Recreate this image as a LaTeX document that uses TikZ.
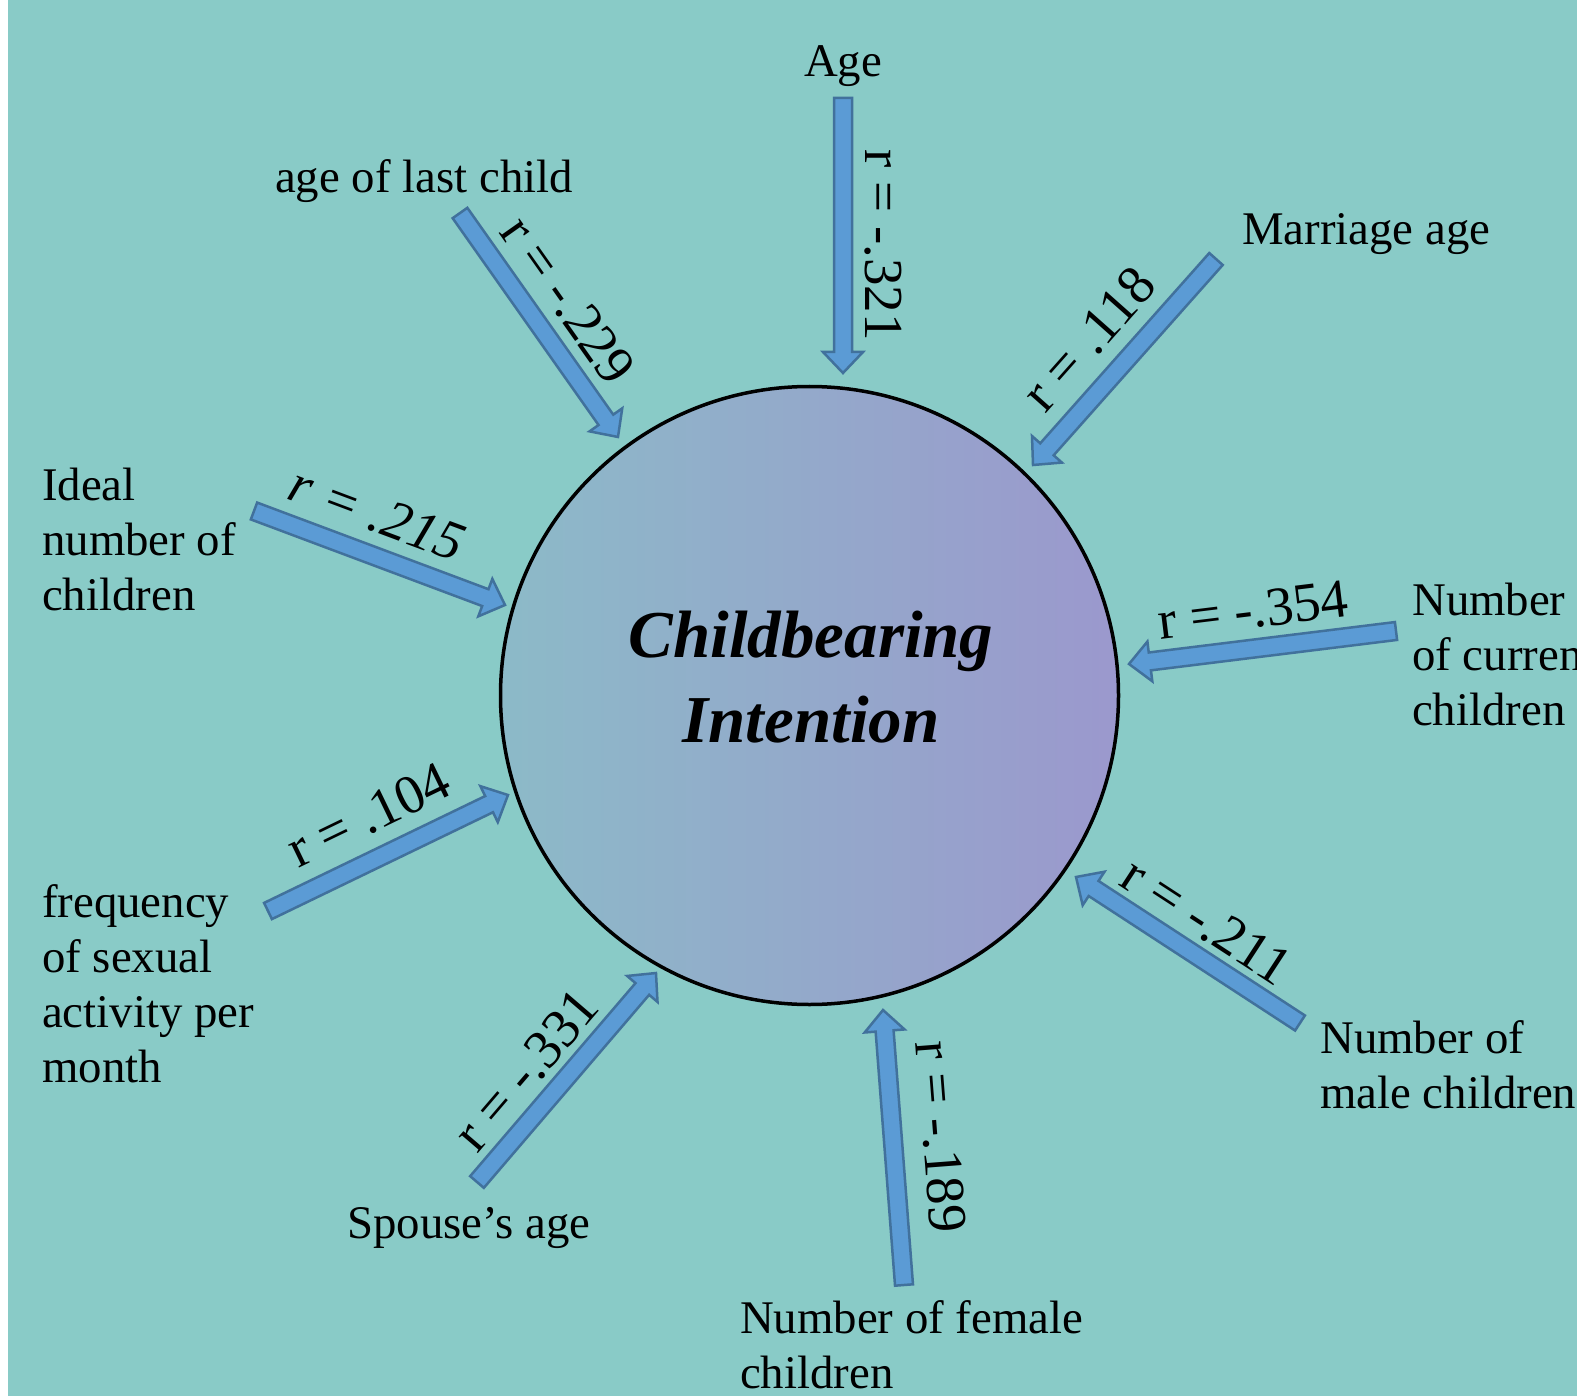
\documentclass[tikz,border=0pt]{standalone}
\usepackage{fontspec}
\setmainfont{Liberation Serif}
\usetikzlibrary{calc}
\definecolor{bgteal}{RGB}{137,203,199}
\definecolor{afill}{RGB}{91,155,213}
\definecolor{aline}{RGB}{65,113,156}
\definecolor{cleft}{RGB}{140,186,200}
\definecolor{cright}{RGB}{155,152,205}
\newcommand\blockarrow[2]{%
  \pgfpointdiff{\pgfpointanchor{#1}{center}}{\pgfpointanchor{#2}{center}}%
  \pgfgetlastxy{\baX}{\baY}%
  \pgfmathsetmacro\baAng{atan2(\baY,\baX)}%
  \pgfmathsetmacro\baLen{veclen(\baX,\baY)}%
  \pgfmathsetmacro\baNeck{\baLen-21}%
  \begin{scope}[shift={(#1)},rotate=\baAng]
    \draw[barrow] (0pt,-9pt) -- (\baNeck pt,-9pt) -- (\baNeck pt,-20pt) -- (\baLen pt,0pt) -- (\baNeck pt,20pt) -- (\baNeck pt,9pt) -- (0pt,9pt) -- cycle;
  \end{scope}}
\begin{document}
\begin{tikzpicture}[x=1pt,y=-1pt,
  barrow/.style={fill=afill,draw=aline,line width=2.5pt,line join=miter},
  lbl/.style={inner sep=0pt,font=\fontsize{46.8}{55}\selectfont,align=left},
  rlbl/.style={inner sep=0pt,font=\fontsize{55}{60}\selectfont}]
\useasboundingbox (0,0) rectangle (1577,1396);
\fill[white] (0,0) rectangle (1577,1396);
\fill[bgteal] (8,0) rectangle (1577,1396);
\node[circle, minimum size=618pt, inner sep=0pt, draw=black, line width=3.5pt, left color=cleft, right color=cright] (ci) at (809.5,695.5) {};
\node[inner sep=0pt, align=center, font=\fontsize{67}{85}\selectfont\bfseries\itshape] (title) at (811,677) {Childbearing\\Intention};

% labels (multi-line nodes: base = baseline of last line)
\node[lbl, anchor=base] (age) at (843,77) {Age};
\node[lbl, anchor=base west] (last) at (275,193) {age of last child};
\node[lbl, anchor=base west] (mar) at (1242,245) {Marriage age};
\node[lbl, anchor=base west] (spo) at (347,1238) {Spouse’s age};
\node[lbl, anchor=base west] (cur) at (1412,725) {Number\\of current\\children};
\node[lbl, anchor=base west] (male) at (1320,1108) {Number of\\male children};
\node[lbl, anchor=base west] (fem) at (740,1388) {Number of female\\children};
\node[lbl, anchor=base west] (ideal) at (42,610) {Ideal\\number of\\children};
\node[lbl, anchor=base west] (freq) at (42,1082) {frequency\\of sexual\\activity per\\month};

% arrow ends
\coordinate (tAge) at (843,98);    \coordinate (hAge) at (843,373);
\coordinate (tLast) at (460,213);  \coordinate (hLast) at (618,437);
\coordinate (tMar) at (1216,259);  \coordinate (hMar) at (1033,465);
\coordinate (tCur) at (1396,631);  \coordinate (hCur) at (1129,664);
\coordinate (tMale) at (1300,1023);\coordinate (hMale) at (1076,877);
\coordinate (tFem) at (904,1285);  \coordinate (hFem) at (883,1010);
\coordinate (tSpo) at (477,1182);  \coordinate (hSpo) at (656,973);
\coordinate (tFreq) at (268,911);  \coordinate (hFreq) at (508,795);
\coordinate (tIdeal) at (254,511); \coordinate (hIdeal) at (505,605);

\blockarrow{tAge}{hAge}
\blockarrow{tLast}{hLast}
\blockarrow{tMar}{hMar}
\blockarrow{tCur}{hCur}
\blockarrow{tMale}{hMale}
\blockarrow{tFem}{hFem}
\blockarrow{tSpo}{hSpo}
\blockarrow{tFreq}{hFreq}
\blockarrow{tIdeal}{hIdeal}

% correlation labels
\node[rlbl, rotate=-90] (rAge) at (883,245) {r = -.321};
\node[rlbl, rotate=-54.8] (rLast) at (568,300) {r = -.229};
\node[rlbl, rotate=48.4] (rMar) at (1089,339) {r = .118};
\node[rlbl, rotate=7] (rCur) at (1253,610) {r = -.354};
\node[rlbl, rotate=-33.1] (rMale) at (1207,921) {r = -.211};
\node[rlbl, rotate=-85.6] (rFem) at (941,1137) {r = -.189};
\node[rlbl, rotate=49.4] (rSpo) at (526,1070) {r = -.331};
\node[rlbl, rotate=25.8] (rFreq) at (369,815) {r = .104};
\node[rlbl, rotate=-20.5, font=\fontsize{55}{60}\selectfont\itshape] (rIdeal) at (377,514) {r = .215};
\end{tikzpicture}
\end{document}
